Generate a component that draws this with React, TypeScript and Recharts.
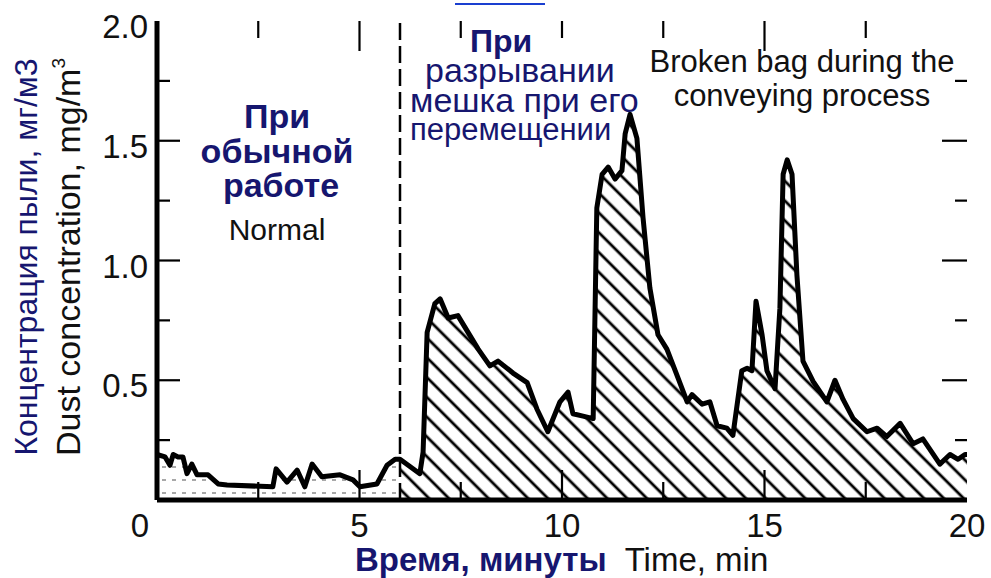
import React from 'react';
import { ComposedChart, Area, Line, XAxis, YAxis, ReferenceLine } from 'recharts';

// time, minutes
const time = [
  0, 0.2, 0.32, 0.4, 0.52, 0.64, 0.74, 0.86, 0.99, 1.26, 1.51, 1.73, 2.86, 2.94, 3.21, 3.46,
  3.65, 3.83, 4.07, 4.52, 4.84, 5.01, 5.43, 5.68, 5.88, 6.0, 6.49, 6.57, 6.67, 6.86, 6.99,
  7.19, 7.43, 7.68, 7.93, 8.22, 8.42, 8.79, 9.14, 9.38, 9.65, 9.95, 10.15, 10.27, 10.52,
  10.77, 10.86, 10.99, 11.14, 11.31, 11.48, 11.56, 11.68, 11.85, 12.0, 12.17, 12.37, 12.59,
  12.84, 13.09, 13.21, 13.46, 13.65, 13.83, 14.07, 14.22, 14.44, 14.57, 14.69, 14.79, 14.94,
  15.06, 15.26, 15.38, 15.46, 15.56, 15.68, 15.8, 15.95, 16.2, 16.54, 16.74, 16.94, 17.19,
  17.53, 17.78, 18.02, 18.35, 18.67, 18.91, 19.33, 19.58, 19.78, 19.95, 20,
];

// dust concentration, mg/m3
const dust = [
  0.19, 0.18, 0.145, 0.19, 0.18, 0.18, 0.11, 0.15, 0.105, 0.105, 0.067, 0.063, 0.055, 0.13,
  0.075, 0.125, 0.055, 0.15, 0.097, 0.105, 0.084, 0.055, 0.067, 0.145, 0.17, 0.17, 0.11,
  0.2, 0.7, 0.82, 0.84, 0.76, 0.77, 0.7, 0.63, 0.56, 0.58, 0.53, 0.49, 0.38, 0.285, 0.41,
  0.45, 0.36, 0.35, 0.34, 1.22, 1.36, 1.39, 1.34, 1.375, 1.53, 1.61, 1.51, 1.18, 0.885,
  0.69, 0.63, 0.52, 0.41, 0.44, 0.4, 0.41, 0.31, 0.3, 0.27, 0.54, 0.55, 0.54, 0.83, 0.69,
  0.54, 0.465, 0.8, 1.36, 1.42, 1.36, 0.94, 0.58, 0.495, 0.41, 0.5, 0.42, 0.34, 0.285, 0.3,
  0.265, 0.32, 0.235, 0.255, 0.15, 0.19, 0.17, 0.19, 0.19,
];

const BAG_BREAK = 6;

const xTicks = [0, 2.5, 5, 7.5, 10, 12.5, 15, 17.5, 20];
const xLabels = [0, 5, 10, 15, 20];
const bottomLongTicks = [5, 10, 15];
const topLongTicks = [5, 15];
const yTicks = [0.25, 0.5, 0.75, 1.0, 1.25, 1.5, 1.75, 2.0];
const yLabels = [0.5, 1.0, 1.5, 2.0];

const MARGIN = { top: 21, right: 24, bottom: 0, left: 0 };
const W = 991;
const H = 578;
const Y_AXIS_W = 157;
const X_AXIS_H = 78;
const PLOT_LEFT = MARGIN.left + Y_AXIS_W;
const PLOT_RIGHT = W - MARGIN.right;
const PLOT_TOP = MARGIN.top;
const PLOT_BOTTOM = H - MARGIN.bottom - X_AXIS_H;

const FONT = '"Liberation Sans", Arial, Helvetica, sans-serif';
const NAVY = '#16166f';
const INK = '#111';

const data = time.map((t, i) => ({
  t,
  dust: dust[i],
  normal: t <= BAG_BREAK ? dust[i] : null,
  broken: t >= BAG_BREAK ? dust[i] : null,
}));

// labels outside the frame, tick marks drawn inward on both opposite sides
const XTick = (props: any) => {
  const { x, payload } = props;
  const v = payload.value;
  const edge = v === 0 || v === 20;
  const bottomLen = bottomLongTicks.includes(v) ? 30 : 18;
  const topLen = topLongTicks.includes(v) ? 30 : 17;
  return (
    <g>
      {!edge && (
        <>
          <line x1={x} x2={x} y1={PLOT_BOTTOM} y2={PLOT_BOTTOM - bottomLen} stroke="#000" strokeWidth={2.2} />
          <line x1={x} x2={x} y1={PLOT_TOP} y2={PLOT_TOP + topLen} stroke="#000" strokeWidth={2.2} />
        </>
      )}
      {xLabels.includes(v) && (
        <text
          x={x + (v === 0 ? -17 : 0)}
          y={PLOT_BOTTOM + 37}
          textAnchor="middle"
          fontSize={33}
          fontFamily={FONT}
          fill={INK}
        >
          {v}
        </text>
      )}
    </g>
  );
};

const YTick = (props: any) => {
  const { y, payload } = props;
  const v = payload.value;
  const major = yLabels.includes(v);
  return (
    <g>
      {v < 2 && (
        <>
          <line x1={PLOT_LEFT} x2={PLOT_LEFT + (major ? 23 : 13)} y1={y} y2={y} stroke="#000" strokeWidth={2.2} />
          <line x1={PLOT_RIGHT} x2={PLOT_RIGHT - (major ? 25 : 12)} y1={y} y2={y} stroke="#000" strokeWidth={2.2} />
        </>
      )}
      {major && (
        <text x={PLOT_LEFT - 9} y={y + 17} textAnchor="end" fontSize={33} fontFamily={FONT} fill={INK}>
          {v.toFixed(1)}
        </text>
      )}
    </g>
  );
};

const App: React.FC = () => {
  return (
    <div style={{ position: 'absolute', left: 0, top: 0, width: W, height: H, background: '#fff' }}>
      <ComposedChart width={W} height={H} data={data} margin={MARGIN}>
        <defs>
          <pattern id="hatch" patternUnits="userSpaceOnUse" width="14" height="14" patternTransform="rotate(-45)">
            <line x1="7" y1="0" x2="7" y2="14" stroke="#000" strokeWidth="2.8" />
          </pattern>
          <pattern id="dots" patternUnits="userSpaceOnUse" width="10" height="13">
            <rect x="2" y="11" width="4" height="2" fill="#a8a8a8" />
          </pattern>
        </defs>
        <XAxis
          dataKey="t"
          type="number"
          domain={[0, 20]}
          ticks={xTicks}
          interval={0}
          height={X_AXIS_H}
          tickSize={0}
          tickMargin={0}
          tickLine={false}
          tick={<XTick />}
          axisLine={{ stroke: '#000', strokeWidth: 5 }}
        />
        <XAxis
          xAxisId="top"
          orientation="top"
          type="number"
          domain={[0, 20]}
          allowDataOverflow
          height={0}
          tick={false}
          tickLine={false}
          axisLine={{ stroke: '#000', strokeWidth: 3 }}
        />
        <YAxis
          type="number"
          domain={[0, 2]}
          ticks={yTicks}
          interval={0}
          width={Y_AXIS_W}
          tickSize={0}
          tickMargin={0}
          tickLine={false}
          tick={<YTick />}
          axisLine={{ stroke: '#000', strokeWidth: 5 }}
        />
        <YAxis
          yAxisId="right"
          orientation="right"
          type="number"
          domain={[0, 2]}
          allowDataOverflow
          width={0}
          tick={false}
          tickLine={false}
          axisLine={{ stroke: '#000', strokeWidth: 3.5 }}
        />
        <Area
          dataKey="normal"
          type="linear"
          fill="url(#dots)"
          fillOpacity={1}
          stroke="none"
          isAnimationActive={false}
        />
        <Area
          dataKey="broken"
          type="linear"
          fill="url(#hatch)"
          fillOpacity={1}
          stroke="none"
          isAnimationActive={false}
        />
        <ReferenceLine x={BAG_BREAK} stroke="#000" strokeWidth={2.5} strokeDasharray="17 6" />
        <Line
          dataKey="dust"
          type="linear"
          stroke="#000"
          strokeWidth={5}
          strokeLinejoin="round"
          dot={false}
          activeDot={false}
          isAnimationActive={false}
        />
      </ComposedChart>

      <svg
        width={W}
        height={H}
        style={{ position: 'absolute', left: 0, top: 0, pointerEvents: 'none' }}
        fontFamily={FONT}
      >
        <rect x={455} y={3} width={90} height={2} fill="#1a3fd0" />

        <text transform="translate(37,257) rotate(-90)" textAnchor="middle" fontSize={32} fill={NAVY}>
          Концентрация пыли, мг/м3
        </text>
        <text transform="translate(80,257) rotate(-90)" textAnchor="middle" fontSize={34} fill={INK}>
          Dust concentration, mg/m<tspan dy={-15} fontSize={19}>3</tspan>
        </text>

        <text x={277} y={128} textAnchor="middle" fontSize={34} fontWeight="bold" fill={NAVY}>При</text>
        <text x={277} y={163} textAnchor="middle" fontSize={34} fontWeight="bold" fill={NAVY}>обычной</text>
        <text x={281} y={197} textAnchor="middle" fontSize={34} fontWeight="bold" fill={NAVY}>работе</text>
        <text x={277} y={240} textAnchor="middle" fontSize={30} fill={INK}>Normal</text>

        <text x={470} y={52} fontSize={32} fontWeight="bold" fill={NAVY}>При</text>
        <text x={425} y={82} fontSize={34} fill={NAVY}>разрывании</text>
        <text x={410} y={112} fontSize={34} fill={NAVY}>мешка при его</text>
        <text x={410} y={140} fontSize={31} fill={NAVY}>перемещении</text>

        <text x={802} y={72} textAnchor="middle" fontSize={31} fill={INK}>Broken bag during the</text>
        <text x={802} y={106} textAnchor="middle" fontSize={31} fill={INK}>conveying process</text>

        <text x={355} y={571} fontSize={33}>
          <tspan fontWeight="bold" fill={NAVY}>Время, минуты</tspan>
          <tspan dx={18} fill={INK}>Time, min</tspan>
        </text>
      </svg>
    </div>
  );
};

export default App;
